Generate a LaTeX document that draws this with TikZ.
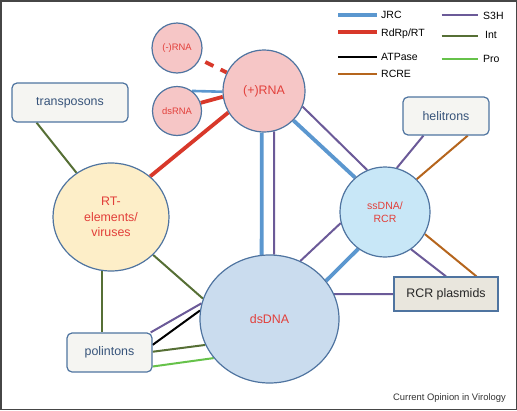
\documentclass[tikz,border=0pt]{standalone}
\usepackage{fontspec}
\setmainfont{Liberation Sans}
\usetikzlibrary{shapes.geometric}
\pgfdeclarelayer{bg}
\pgfsetlayers{bg,main}
\definecolor{nodeborder}{RGB}{79,116,160}
\definecolor{pinkfill}{RGB}{246,198,198}
\definecolor{yellowfill}{RGB}{253,238,200}
\definecolor{ssfill}{RGB}{200,231,247}
\definecolor{dsfill}{RGB}{202,220,238}
\definecolor{boxfill}{RGB}{245,245,242}
\definecolor{rcrfill}{RGB}{233,230,221}
\definecolor{txtred}{RGB}{226,63,58}
\definecolor{boxtext}{RGB}{54,83,122}
\definecolor{jrccol}{RGB}{91,151,207}
\definecolor{redcol}{RGB}{216,56,42}
\definecolor{s3hcol}{RGB}{107,90,152}
\definecolor{intcol}{RGB}{86,111,53}
\definecolor{procol}{RGB}{102,194,74}
\definecolor{rcrecol}{RGB}{181,101,29}
\definecolor{framecol}{RGB}{70,70,70}
\newcommand\myfbig{\fontsize{12.4}{15.5}\selectfont}
\newcommand\myfmid{\fontsize{10.5}{13.3}\selectfont}
\newcommand\myfsmall{\fontsize{9.4}{11}\selectfont}
\tikzset{
  bub/.style={draw=nodeborder, line width=1.2pt, inner sep=0pt, text=txtred, align=center},
  cbub/.style={bub, circle},
  ebub/.style={bub, ellipse},
  rbox/.style={draw=nodeborder, line width=1.2pt, rounded corners=5pt, fill=boxfill, text=boxtext, font=\myfbig, inner sep=0pt},
  pbox/.style={draw=nodeborder, line width=1.2pt, fill=rcrfill, text=black!85, font=\myfbig, inner sep=0pt},
  jrc/.style={line width=3.8pt, draw=jrccol},
  rdrp/.style={line width=3.8pt, draw=redcol},
  s3h/.style={line width=2pt, draw=s3hcol},
  intg/.style={line width=2pt, draw=intcol},
  prol/.style={line width=2pt, draw=procol},
  atp/.style={line width=2pt, draw=black},
  rcre/.style={line width=2pt, draw=rcrecol},
  leg/.style={anchor=west, inner sep=0pt, font=\myfmid, text height=7.6pt, text depth=0pt, text=black}
}
\begin{document}
\begin{tikzpicture}[x=1pt, y=-1pt]
\useasboundingbox (0,0) rectangle (517,410);
\draw[framecol, line width=1.5pt] (0.75,0.75) rectangle (516.25,409.25);

% nodes
\node[cbub, fill=pinkfill, minimum size=50pt, font=\myfsmall] (mRNA) at (177,48) {(-)RNA};
\node[cbub, fill=pinkfill, minimum size=49pt, font=\myfsmall] (dsRNA) at (177,111) {dsRNA};
\node[cbub, fill=pinkfill, minimum size=82pt, font=\myfbig] (pRNA) at (264,91) {(+)RNA};
\node[ebub, fill=yellowfill, minimum width=116pt, minimum height=108pt, font=\myfbig] (RT) at (111,217) {RT-\\elements/\\viruses};
\node[cbub, fill=ssfill, minimum size=90pt, font=\myfmid] (ss) at (385,212) {ssDNA/\\RCR};
\node[ebub, fill=dsfill, minimum width=139pt, minimum height=128pt, font=\myfbig] (ds) at (269.5,319) {dsDNA};
\node[rbox, minimum width=116pt, minimum height=39pt] (tr) at (70,102.5) {transposons};
\node[rbox, minimum width=86pt, minimum height=38pt] (he) at (446,116) {helitrons};
\node[pbox, minimum width=104pt, minimum height=34pt] (rcr) at (446,294) {RCR plasmids};
\node[rbox, minimum width=85pt, minimum height=39pt] (po) at (109.5,352.5) {polintons};

% edges
\begin{pgfonlayer}{bg}
\draw[rdrp, dash pattern=on 9pt off 8pt, dash phase=11pt] (mRNA) -- (pRNA);
\draw[jrc, line width=2.6pt] (dsRNA.53) -- (pRNA.181);
\draw[rdrp] (dsRNA.19) -- (pRNA.188);
\draw[rdrp] (RT.46) -- (pRNA.211);
\draw[intg] (tr.211) -- (RT.128);
\draw[jrc] (pRNA.267) -- (ds.97);
\draw[s3h] (pRNA.284) -- (ds.86);
\draw[jrc] (pRNA.315) -- (ss.131);
\draw[s3h] (pRNA.338) -- (ss.113);
\draw[s3h] (he.221) -- (ss.75);
\draw[rcre] (he.318) -- (ss.46);
\draw[s3h] (ss.194) -- (ds.62);
\draw[jrc] (ss.234) -- (ds.34);
\draw[s3h] (ss.305) -- (rcr.north);
\draw[rcre] (ss.331) -- (rcr.30);
\draw[s3h] (ds.21) -- (rcr.west);
\draw[intg] (RT.318) -- (ds.163);
\draw[intg] (RT.261) -- (RT.261 |- po.north);
\draw[s3h] (po.26) -- (ds.167);
\draw[atp] (po.10) -- (ds.173);
\draw[intg] (po.1) -- (ds.202);
\draw[prol] (po.342) -- (ds.215);
\end{pgfonlayer}

% legend
\node[leg] (lJRC) at (381,15) {JRC};
\node[leg] (lRd) at (381,32.3) {RdRp/RT};
\node[leg] (lAT) at (381,56.7) {ATPase};
\node[leg] (lRC) at (381,74) {RCRE};
\node[leg] (lS3) at (483,15.3) {S3H};
\node[leg] (lIn) at (485,34.5) {Int};
\node[leg] (lPr) at (483,59) {Pro};
\draw[jrc] ([xshift=-42.7pt]lJRC.west) -- ([xshift=-4.3pt]lJRC.west);
\draw[rdrp] ([xshift=-42.7pt]lRd.west) -- ([xshift=-4.3pt]lRd.west);
\draw[atp] ([xshift=-42.7pt]lAT.west) -- ([xshift=-4.3pt]lAT.west);
\draw[rcre] ([xshift=-42.7pt]lRC.west) -- ([xshift=-4.3pt]lRC.west);
\draw[s3h] ([xshift=-41.3pt]lS3.west) -- ([xshift=-4.7pt]lS3.west);
\draw[intg] ([xshift=-43.3pt,yshift=-1.2pt]lIn.west) -- ([xshift=-6.7pt,yshift=-1.2pt]lIn.west);
\draw[prol] ([xshift=-41.3pt]lPr.west) -- ([xshift=-4.7pt]lPr.west);

\node[anchor=east, inner sep=0pt, font=\myfsmall, text=black!80] (cap) at (506,397.7) {Current Opinion in Virology};
\end{tikzpicture}
\end{document}
